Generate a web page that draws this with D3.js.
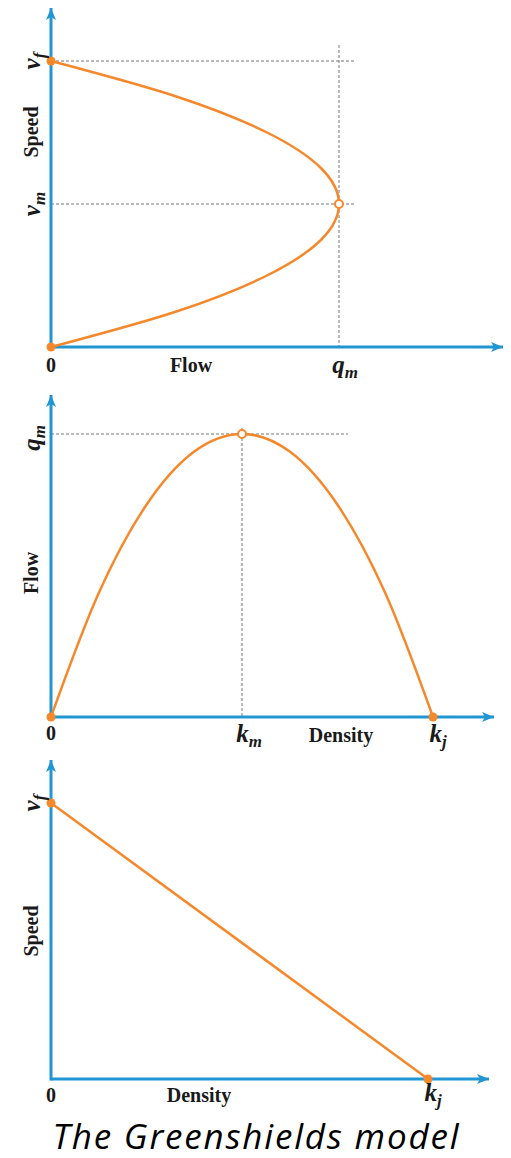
<!DOCTYPE html>
<html lang="en">
  <head>
    <meta charset="utf-8">
    <title>Greenshields model</title>
    <script src="https://d3js.org/d3.v7.js"></script>
    <style>
      body { margin: 0; background: #fff; }
      .lab { font-family: "Liberation Serif", serif; font-weight: bold; fill: #1a1a1a; }
      .math { font-family: "Liberation Serif", serif; font-weight: bold; font-style: italic; fill: #1a1a1a; }
    </style>
  </head>

  <body>

  <script>

// values as fractions of v_f, q_m, k_j
  var speedShare   = [0, 0.125, 0.25, 0.375, 0.5, 0.625, 0.75, 0.875, 1];
  var densityShare = [0, 0.125, 0.25, 0.375, 0.5, 0.625, 0.75, 0.875, 1];
  var flowShare    = [0, 0.438, 0.75, 0.938, 1, 0.938, 0.75, 0.438, 0];
  var lineDensity  = [0, 1];
  var lineSpeed    = [1, 0];

  var axisNames = ["Speed", "Flow", "Density"];
  var caption = "The Greenshields model";

  var w = 511;
  var h = 1158;
  var blue = "#2196d3";
  var orange = "#f5882a";
  var dashGrey = "#777";

  var svg = d3.select("body")
    .append("svg")
      .attr("width", w)
      .attr("height", h);

  svg.append("defs").append("marker")
      .attr("id", "arrow")
      .attr("viewBox", "0 0 12 10")
      .attr("refX", 12)
      .attr("refY", 5)
      .attr("markerUnits", "userSpaceOnUse")
      .attr("markerWidth", 12)
      .attr("markerHeight", 10)
      .attr("orient", "auto")
    .append("path")
      .attr("d", "M0,0 L12,5 L0,10 L3,5 Z")
      .attr("fill", blue);

  // draws the two arrowed axes of one panel
  function axes(g, x0, y0, xTip, yTip) {
    g.append("line")
        .attr("x1", x0).attr("y1", y0)
        .attr("x2", xTip).attr("y2", y0)
        .attr("stroke", blue).attr("stroke-width", 3)
        .attr("marker-end", "url(#arrow)");
    g.append("line")
        .attr("x1", x0).attr("y1", y0 + 1.5)
        .attr("x2", x0).attr("y2", yTip)
        .attr("stroke", blue).attr("stroke-width", 3)
        .attr("marker-end", "url(#arrow)");
  }

  function dashed(g, x1, y1, x2, y2) {
    g.append("line")
        .attr("x1", x1).attr("y1", y1)
        .attr("x2", x2).attr("y2", y2)
        .attr("stroke", dashGrey)
        .attr("stroke-width", 1)
        .attr("stroke-dasharray", "3,2");
  }

  // math symbol with subscript, optionally rotated
  function mathLabel(g, x, y, main, sub, rotate) {
    var t = g.append("text")
        .attr("class", "math")
        .attr("text-anchor", "middle")
        .attr("font-size", 25)
        .attr("transform", "translate(" + x + "," + y + ")" + (rotate ? " rotate(-90)" : ""));
    t.append("tspan").text(main);
    t.append("tspan").attr("font-size", 17).attr("dy", 5).text(sub);
  }

  function plainLabel(g, x, y, txt, rotate) {
    g.append("text")
        .attr("class", "lab")
        .attr("text-anchor", "middle")
        .attr("font-size", 20)
        .attr("transform", "translate(" + x + "," + y + ")" + (rotate ? " rotate(-90)" : ""))
        .text(txt);
  }

  function dot(g, cx, cy, open) {
    g.append("circle")
        .attr("cx", cx).attr("cy", cy)
        .attr("r", open ? 4 : 4.5)
        .attr("fill", open ? "#fff" : orange)
        .attr("stroke", orange)
        .attr("stroke-width", open ? 2 : 0);
  }

// ---- panel 1: speed vs flow ----
  var g1 = svg.append("g");
  var x1 = d3.scaleLinear().domain([0, 1]).range([51, 339]);
  var y1 = d3.scaleLinear().domain([0, 1]).range([347, 61]);

  dashed(g1, x1(0), y1(1), 355, y1(1));
  dashed(g1, x1(0), y1(0.5), 356, y1(0.5));
  dashed(g1, x1(1), 45, x1(1), y1(0));
  axes(g1, x1(0), y1(0), 503, 8);

  g1.append("path")
      .datum(d3.range(speedShare.length))
      .attr("fill", "none")
      .attr("stroke", orange)
      .attr("stroke-width", 2.5)
      .attr("d", d3.line()
        .x(i => x1(flowShare[i]))
        .y(i => y1(speedShare[i]))
        .curve(d3.curveMonotoneY));

  dot(g1, x1(0), y1(0));
  dot(g1, x1(0), y1(1));
  dot(g1, x1(1), y1(0.5), true);

  mathLabel(g1, 40, y1(1), "v", "f", true);
  mathLabel(g1, 40, y1(0.5), "v", "m", true);
  plainLabel(g1, 38, 132, axisNames[0], true);
  plainLabel(g1, x1(0), 372, "0");
  plainLabel(g1, 191, 372, axisNames[1]);
  mathLabel(g1, 345, 373, "q", "m");

// ---- panel 2: flow vs density ----
  var g2 = svg.append("g");
  var x2 = d3.scaleLinear().domain([0, 1]).range([51, 433]);
  var y2 = d3.scaleLinear().domain([0, 1]).range([717, 434]);

  dashed(g2, x2(0), y2(1), 348, y2(1));
  dashed(g2, x2(0.5), 428, x2(0.5), y2(0));
  axes(g2, x2(0), y2(0), 494, 395);

  g2.append("path")
      .datum(d3.range(densityShare.length))
      .attr("fill", "none")
      .attr("stroke", orange)
      .attr("stroke-width", 2.5)
      .attr("d", d3.line()
        .x(i => x2(densityShare[i]))
        .y(i => y2(flowShare[i]))
        .curve(d3.curveMonotoneX));

  dot(g2, x2(0), y2(0));
  dot(g2, x2(1), y2(0));
  dot(g2, x2(0.5), y2(1), true);

  mathLabel(g2, 40, y2(1) + 4, "q", "m", true);
  plainLabel(g2, 38, 573, axisNames[1], true);
  plainLabel(g2, x2(0), 740, "0");
  mathLabel(g2, x2(0.5) + 7, 742, "k", "m");
  plainLabel(g2, 341, 742, axisNames[2]);
  mathLabel(g2, x2(1) + 5, 742, "k", "j");

// ---- panel 3: speed vs density ----
  var g3 = svg.append("g");
  var x3 = d3.scaleLinear().domain([0, 1]).range([51, 428]);
  var y3 = d3.scaleLinear().domain([0, 1]).range([1079, 803]);

  axes(g3, x3(0), y3(0), 489, 760);

  g3.append("path")
      .datum(d3.range(lineDensity.length))
      .attr("fill", "none")
      .attr("stroke", orange)
      .attr("stroke-width", 2.5)
      .attr("d", d3.line()
        .x(i => x3(lineDensity[i]))
        .y(i => y3(lineSpeed[i])));

  dot(g3, x3(0), y3(1));
  dot(g3, x3(1), y3(0));

  mathLabel(g3, 40, y3(1), "v", "f", true);
  plainLabel(g3, 38, 931, axisNames[0], true);
  plainLabel(g3, x3(0), 1102, "0");
  plainLabel(g3, 199, 1102, axisNames[2]);
  mathLabel(g3, x3(1) + 5, 1101, "k", "j");

  svg.append("text")
      .attr("x", w / 2)
      .attr("y", 1149)
      .attr("text-anchor", "middle")
      .attr("font-family", "'Open Sans', sans-serif")
      .attr("font-style", "italic")
      .attr("font-size", 35)
      .attr("textLength", 406)
      .attr("lengthAdjust", "spacing")
      .attr("fill", "#000")
      .text(caption);

    </script>

  </body>

</html>
